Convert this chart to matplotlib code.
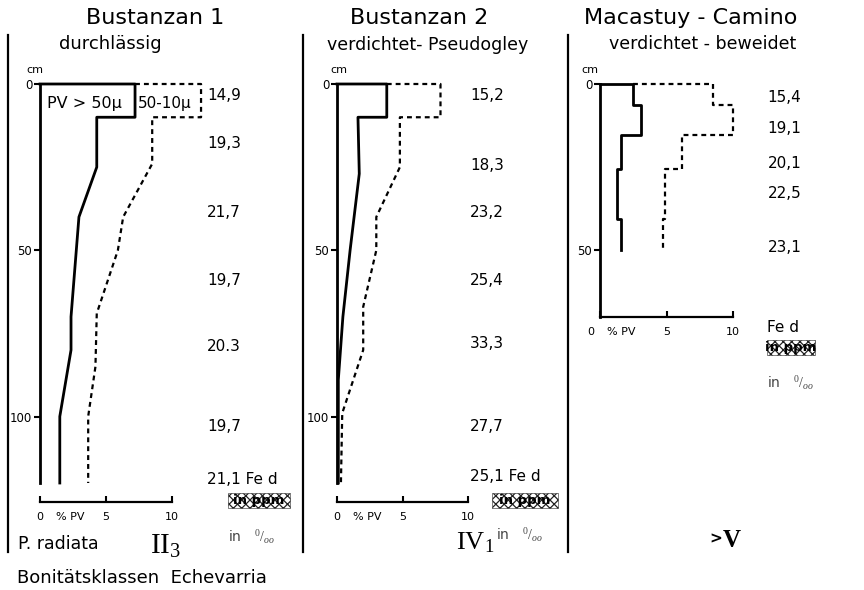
import matplotlib
matplotlib.use("Agg")
import matplotlib.pyplot as plt
from matplotlib.patches import Rectangle
from matplotlib.lines import Line2D
from matplotlib.transforms import ScaledTranslation

W, H = 864, 590

# Bustanzan 1 - durchlaessig (PV in %, depth in cm)
b1_pv50_x = [0, 7.2, 7.2, 4.3, 4.3, 2.95, 2.35, 2.35, 1.5, 1.5]
b1_pv50_d = [0, 0, 10, 10, 25, 40, 70, 80, 100, 120]
b1_pv10_x = [7.2, 12.2, 12.2, 8.5, 8.5, 6.3, 5.9, 4.3, 4.2, 3.65, 3.65]
b1_pv10_d = [0, 0, 10, 10, 24, 40, 50, 69, 85, 100, 120]
b1_fe = ["14,9", "19,3", "21,7", "19,7", "20.3", "19,7", "21,1 Fe d"]
b1_fe_d = [3.5, 18, 38.5, 59, 79, 103, 119]

# Bustanzan 2 - verdichtet, Pseudogley
b2_pv50_x = [0, 3.8, 3.8, 1.6, 1.7, 1.0, 0.45, 0.1, 0.1]
b2_pv50_d = [0, 0, 10, 10, 27, 50, 70, 89, 120]
b2_pv10_x = [3.8, 7.9, 7.9, 4.8, 4.8, 3.0, 3.0, 2.0, 2.0, 0.4, 0.3]
b2_pv10_d = [0, 0, 10, 10, 25, 40, 50, 67, 80, 99, 120]
b2_fe = ["15,2", "18,3", "23,2", "25,4", "33,3", "27,7", "25,1 Fe d"]
b2_fe_d = [3.6, 24.5, 38.5, 59, 78, 103, 118]

# Macastuy - Camino - verdichtet, beweidet
m_pv50_x = [0, 2.5, 2.5, 3.1, 3.1, 1.6, 1.6, 1.25, 1.25, 1.6, 1.6]
m_pv50_d = [0, 0, 6.3, 6.3, 15.4, 15.4, 25.5, 25.5, 40.5, 40.5, 50]
m_pv10_x = [2.5, 8.5, 8.5, 10.0, 10.0, 6.2, 6.2, 4.9, 4.9, 4.7, 4.7]
m_pv10_d = [0, 0, 6.3, 6.3, 15.4, 15.4, 25.5, 25.5, 40.5, 40.5, 50]
m_fe = ["15,4", "19,1", "20,1", "22,5", "23,1"]
m_fe_d = [4, 13.5, 24, 33, 49]

pv_ticks = [0, 5, 10]

plt.rcParams["hatch.linewidth"] = 0.9
plt.rcParams["mathtext.fontset"] = "custom"
plt.rcParams["mathtext.rm"] = "Liberation Serif"
plt.rcParams["mathtext.it"] = "Liberation Serif:italic"
plt.rcParams["mathtext.bf"] = "Liberation Serif:bold"
fig = plt.figure(figsize=(W / 100, H / 100), dpi=100)
fig.patch.set_facecolor("white")


def profile(x0, y0, y1, xscale, xmax, dmax, yticks, outward, cm_dx, pv_x,
            s_x, s_d, d_x, d_d, fe, fe_d, fe_x):
    ax = fig.add_axes([x0 / W, 1 - y1 / H, xmax * xscale / W, (y1 - y0) / H])
    ax.patch.set_alpha(0)
    ax.plot(s_x, s_d, color="k", lw=2.0, clip_on=False)
    ax.plot(d_x, d_d, color="k", lw=1.6, ls=(0, (2.2, 1.8)), clip_on=False)
    ax.set_xlim(0, xmax)
    ax.set_ylim(dmax, 0)
    for s in ["top", "right"]:
        ax.spines[s].set_visible(False)
    ax.spines["left"].set_linewidth(2)
    ax.spines["bottom"].set_linewidth(1.6)
    ax.spines["bottom"].set_bounds(0, 10)
    ax.spines["bottom"].set_position(("outward", outward))
    ax.set_xticks(pv_ticks, [str(t) for t in pv_ticks])
    ax.set_xticks([pv_x], ["% PV"], minor=True)
    ax.tick_params(axis="x", which="major", direction="in", length=4, width=1.5,
                   labelsize=8, pad=7.5)
    ax.tick_params(axis="x", which="minor", length=0, labelsize=8, pad=7.5)
    ax.set_yticks(yticks, [str(t) for t in yticks])
    ax.tick_params(axis="y", direction="out", length=4, width=1.5,
                   labelsize=8.5, pad=1.5)
    ax.annotate("cm", xy=(0, 0), xytext=(cm_dx, 10), textcoords="offset points",
                ha="center", va="center", fontsize=8)
    for lab, d in zip(fe, fe_d):
        ax.text(fe_x, d, lab, fontsize=11, va="center", ha="left")
    return ax


ax1 = profile(40, 84, 483, 13.2, 13, 120, [0, 50, 100], 13.7, -4, 2.27,
              b1_pv50_x, b1_pv50_d, b1_pv10_x, b1_pv10_d, b1_fe, b1_fe_d, 12.65)
ax1.text(0.53, 5.8, "PV > 50μ", fontsize=11.5, va="center", ha="left")
ax1.text(7.4, 5.8, "50-10μ", fontsize=11, va="center", ha="left")

ax2 = profile(337, 84, 483, 13.1, 10.5, 120, [0, 50, 100], 13.7, 1, 2.3,
              b2_pv50_x, b2_pv50_d, b2_pv10_x, b2_pv10_d, b2_fe, b2_fe_d, 10.15)

ax3 = profile(600, 84, 317, 13.3, 10.5, 70, [0, 50], 0, -7, 1.6,
              m_pv50_x, m_pv50_d, m_pv10_x, m_pv10_d, m_fe, m_fe_d, 12.6)
# the "0" of the third panel sits left of its axis
zero = ax3.get_xticklabels()[0]
zero.set_transform(zero.get_transform() + ScaledTranslation(-0.09, 0, fig.dpi_scale_trans))


def ftext(x, y, s, **kw):
    fig.text(x / W, 1 - y / H, s, **kw)


def hatched(x, y, w, h):
    ftext(x + w / 2, y + h / 2, "in ppm", fontsize=9.5, fontweight="bold",
          ha="center", va="center")
    fig.add_artist(Rectangle((x / W, 1 - (y + h) / H), w / W, h / H,
                             transform=fig.transFigure, fill=False, hatch="xxxx",
                             edgecolor="#222", lw=0.4))


# panel separators
for xs in [8, 303, 568]:
    fig.add_artist(Line2D([xs / W, xs / W], [1 - 35 / H, 1 - 552 / H],
                          color="k", lw=1.6))

# titles
ftext(155, 18, "Bustanzan 1", fontsize=16, ha="center", va="center")
ftext(419, 18, "Bustanzan 2", fontsize=16, ha="center", va="center")
ftext(691, 18, "Macastuy - Camino", fontsize=16, ha="center", va="center")
ftext(110, 44, "durchlässig", fontsize=13, ha="center", va="center")
ftext(428, 45, "verdichtet- Pseudogley", fontsize=12.5, ha="center", va="center")
ftext(703, 44, "verdichtet - beweidet", fontsize=12.5, ha="center", va="center")

# Fe d units
hatched(228, 493, 62, 15)
hatched(492, 493, 66, 15)
hatched(767, 340, 48, 15)
ftext(767, 327, "Fe d", fontsize=11, ha="left", va="center")
unit = r"in   $^{0}/_{oo}$"
ftext(228, 537, unit, fontsize=10, color="#444", ha="left", va="center")
ftext(496, 535, unit, fontsize=10, color="#444", ha="left", va="center")
ftext(767, 383, unit, fontsize=10, color="#444", ha="left", va="center")

# site classes
ftext(18, 544, "P. radiata", fontsize=12.5, ha="left", va="center")
ftext(150, 546, r"$\mathrm{II}_{3}$", fontsize=21, ha="left", va="center")
ftext(456, 542, r"$\mathrm{IV}_{1}$", fontsize=19, ha="left", va="center")
ftext(709, 539, ">", fontsize=11, fontweight="bold", ha="left", va="center")
ftext(722, 540, r"$\mathbf{V}$", fontsize=18, ha="left", va="center")
ftext(17, 578, "Bonitätsklassen  Echevarria", fontsize=13, ha="left", va="center")

fig.savefig("out.png", dpi=100, facecolor="white")
plt.close()
